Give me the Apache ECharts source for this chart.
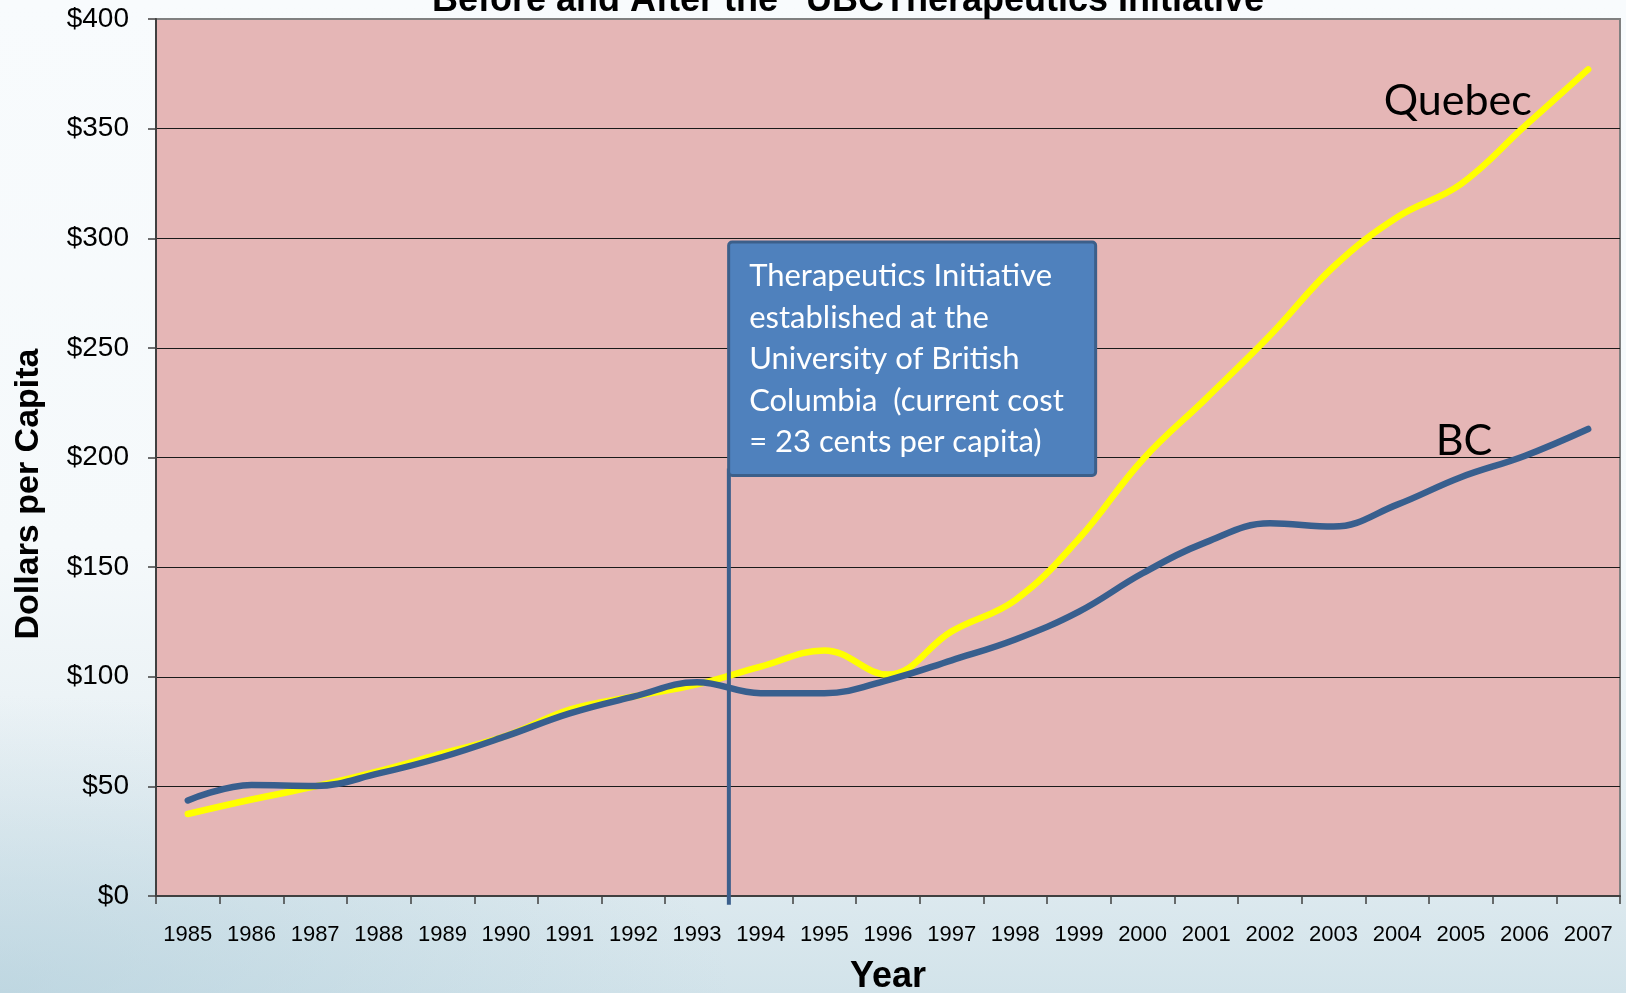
<!DOCTYPE html>
<html>
<head>
<meta charset="utf-8">
<script src="https://cdn.jsdelivr.net/npm/echarts/dist/echarts.min.js"></script>
<style>
  html, body {
    margin: 0;
    padding: 0;
    width: 1626px;
    height: 993px;
    overflow: hidden;
  }
  body {
    background:
      radial-gradient(ellipse 45% 30% at 0% 100%, rgba(175, 205, 218, 0.55), rgba(175, 205, 218, 0)),
      linear-gradient(180deg, #f8fbfd 0%, #f5f9fb 55%, #e6eff3 80%, #d2e3ea 100%);
  }
  #chart_drug_costs {
    width: 1626px;
    height: 993px;
  }
</style>
</head>
<body>
<div id="chart_drug_costs"></div>
<script>
  // values, dollars per capita
  const years = ['1985', '1986', '1987', '1988', '1989', '1990', '1991', '1992', '1993', '1994', '1995', '1996',
    '1997', '1998', '1999', '2000', '2001', '2002', '2003', '2004', '2005', '2006', '2007'];
  const quebec = [37.4, 44, 50, 57, 65, 73, 85, 91, 96.5, 104.6, 112, 101,
    120.7, 135, 163, 199, 227, 255.6, 287, 309.6, 324.7, 351, 377];
  const bc = [43.6, 50.6, 50.2, 55.9, 63.4, 72.9, 83.3, 90.9, 97.5, 92.5, 92.5, 98.5,
    107.5, 117, 129.7, 147.2, 161.4, 170, 168.5, 178.5, 191, 200.7, 213];

  // Therapeutics Initiative start (between 1993 and 1994) and the note beside it
  const tiYear = 1993.5;
  const tiLine = [[tiYear, 195], [tiYear, -4]];
  const tiNote = [[1993.52, 297.6]];
  const tiText = ['Therapeutics Initiative', 'established at the', 'University of British',
    'Columbia  (current cost', '= 23 cents per capita)'];
  const quebecTag = [[2004.95, 362.6]];
  const bcTag = [[2005.05, 207.5]];

  const yTicks = [0, 50, 100, 150, 200, 250, 300, 350, 400];

  let chart = echarts.init(document.getElementById('chart_drug_costs'));
  let arial = '"Liberation Sans", Arial, sans-serif';

  let option = {
    backgroundColor: 'transparent',
    animation: false,
    grid: {
      left: 156,
      right: 6,
      top: 19,
      bottom: 97,
      containLabel: false,
      outerBoundsMode: 'none',
      show: true,
      backgroundColor: '#e5b6b6',
      borderColor: '#808080',
      borderWidth: 2
    },
    graphic: [
      {
        type: 'text',
        x: 857,
        y: 1,
        z: 100,
        style: {
          text: 'Before and After the \u201cUBCTherapeutics Initiative\u201d',
          font: 'bold 36px ' + arial,
          fill: '#000',
          textAlign: 'center',
          textVerticalAlign: 'middle'
        }
      },
      {
        type: 'text',
        x: 29,
        y: 494,
        rotation: Math.PI / 2,
        z: 100,
        style: {
          text: 'Dollars per Capita',
          font: 'bold 34px ' + arial,
          fill: '#000',
          textAlign: 'center',
          textVerticalAlign: 'middle'
        }
      }
    ],
    xAxis: [
      {
        type: 'category',
        data: years,
        boundaryGap: true,
        name: 'Year',
        nameLocation: 'middle',
        nameGap: 63,
        nameTextStyle: {
          fontFamily: 'Liberation Sans',
          fontWeight: 'bold',
          fontSize: 36,
          color: '#000'
        },
        axisLine: {
          lineStyle: {color: '#404040', width: 2}
        },
        axisTick: {
          show: true,
          interval: 0,
          length: 8,
          lineStyle: {color: '#404040', width: 1.5}
        },
        axisLabel: {
          interval: 0,
          margin: 28,
          fontFamily: 'Liberation Sans',
          fontSize: 22,
          color: '#000'
        },
        splitLine: {show: false}
      },
      {
        // hidden linear year axis for the marker line and the text tags
        type: 'value',
        min: 1984.5,
        max: 2007.5,
        show: false
      }
    ],
    yAxis: {
      type: 'value',
      min: 0,
      max: 400,
      interval: 50,
      axisLine: {
        show: true,
        lineStyle: {color: '#404040', width: 2}
      },
      axisTick: {
        show: true,
        length: 8,
        lineStyle: {color: '#404040', width: 1.5}
      },
      axisLabel: {
        margin: 27,
        fontFamily: 'Liberation Sans',
        fontSize: 28,
        color: '#000',
        formatter: v => '$' + v
      },
      splitLine: {
        lineStyle: {
          color: yTicks.map(t => t === 400 ? '#808080' : '#1a1a1a'),
          width: 1.2
        }
      }
    },
    series: [
      {
        name: 'Quebec',
        type: 'line',
        data: quebec,
        smooth: 0.4,
        symbol: 'none',
        z: 3,
        lineStyle: {color: '#ffff00', width: 6.5, cap: 'round'}
      },
      {
        name: 'BC',
        type: 'line',
        data: bc,
        smooth: 0.4,
        symbol: 'none',
        z: 4,
        lineStyle: {color: '#385f8e', width: 6.5, cap: 'round'}
      },
      {
        name: 'TI start',
        type: 'line',
        xAxisIndex: 1,
        data: tiLine,
        clip: false,
        symbol: 'none',
        z: 5,
        lineStyle: {color: '#3b5f8c', width: 4}
      },
      {
        name: 'TI note',
        type: 'scatter',
        xAxisIndex: 1,
        data: tiNote,
        symbolSize: 0,
        silent: true,
        z: 10,
        itemStyle: {opacity: 1},
        label: {
          show: true,
          position: [0, 0],
          align: 'left',
          verticalAlign: 'top',
          formatter: () => tiText.join('\n'),
          width: 324,
          fontFamily: 'Lato',
          fontSize: 31,
          lineHeight: 41.5,
          color: '#ffffff',
          backgroundColor: '#4f81bd',
          borderColor: '#3c5f8a',
          borderWidth: 3,
          borderRadius: 2,
          padding: [12, 21, 11, 19]
        }
      },
      {
        name: 'Quebec tag',
        type: 'scatter',
        xAxisIndex: 1,
        data: quebecTag,
        symbolSize: 0,
        silent: true,
        z: 10,
        itemStyle: {opacity: 1},
        label: {
          show: true,
          position: [0, 0],
          align: 'center',
          verticalAlign: 'middle',
          formatter: 'Quebec',
          fontFamily: 'Lato',
          fontSize: 43,
          color: '#000'
        }
      },
      {
        name: 'BC tag',
        type: 'scatter',
        xAxisIndex: 1,
        data: bcTag,
        symbolSize: 0,
        silent: true,
        z: 10,
        itemStyle: {opacity: 1},
        label: {
          show: true,
          position: [0, 0],
          align: 'center',
          verticalAlign: 'middle',
          formatter: 'BC',
          fontFamily: 'Lato',
          fontSize: 43,
          color: '#000'
        }
      }
    ]
  };

  chart.setOption(option);
</script>
</body>
</html>
